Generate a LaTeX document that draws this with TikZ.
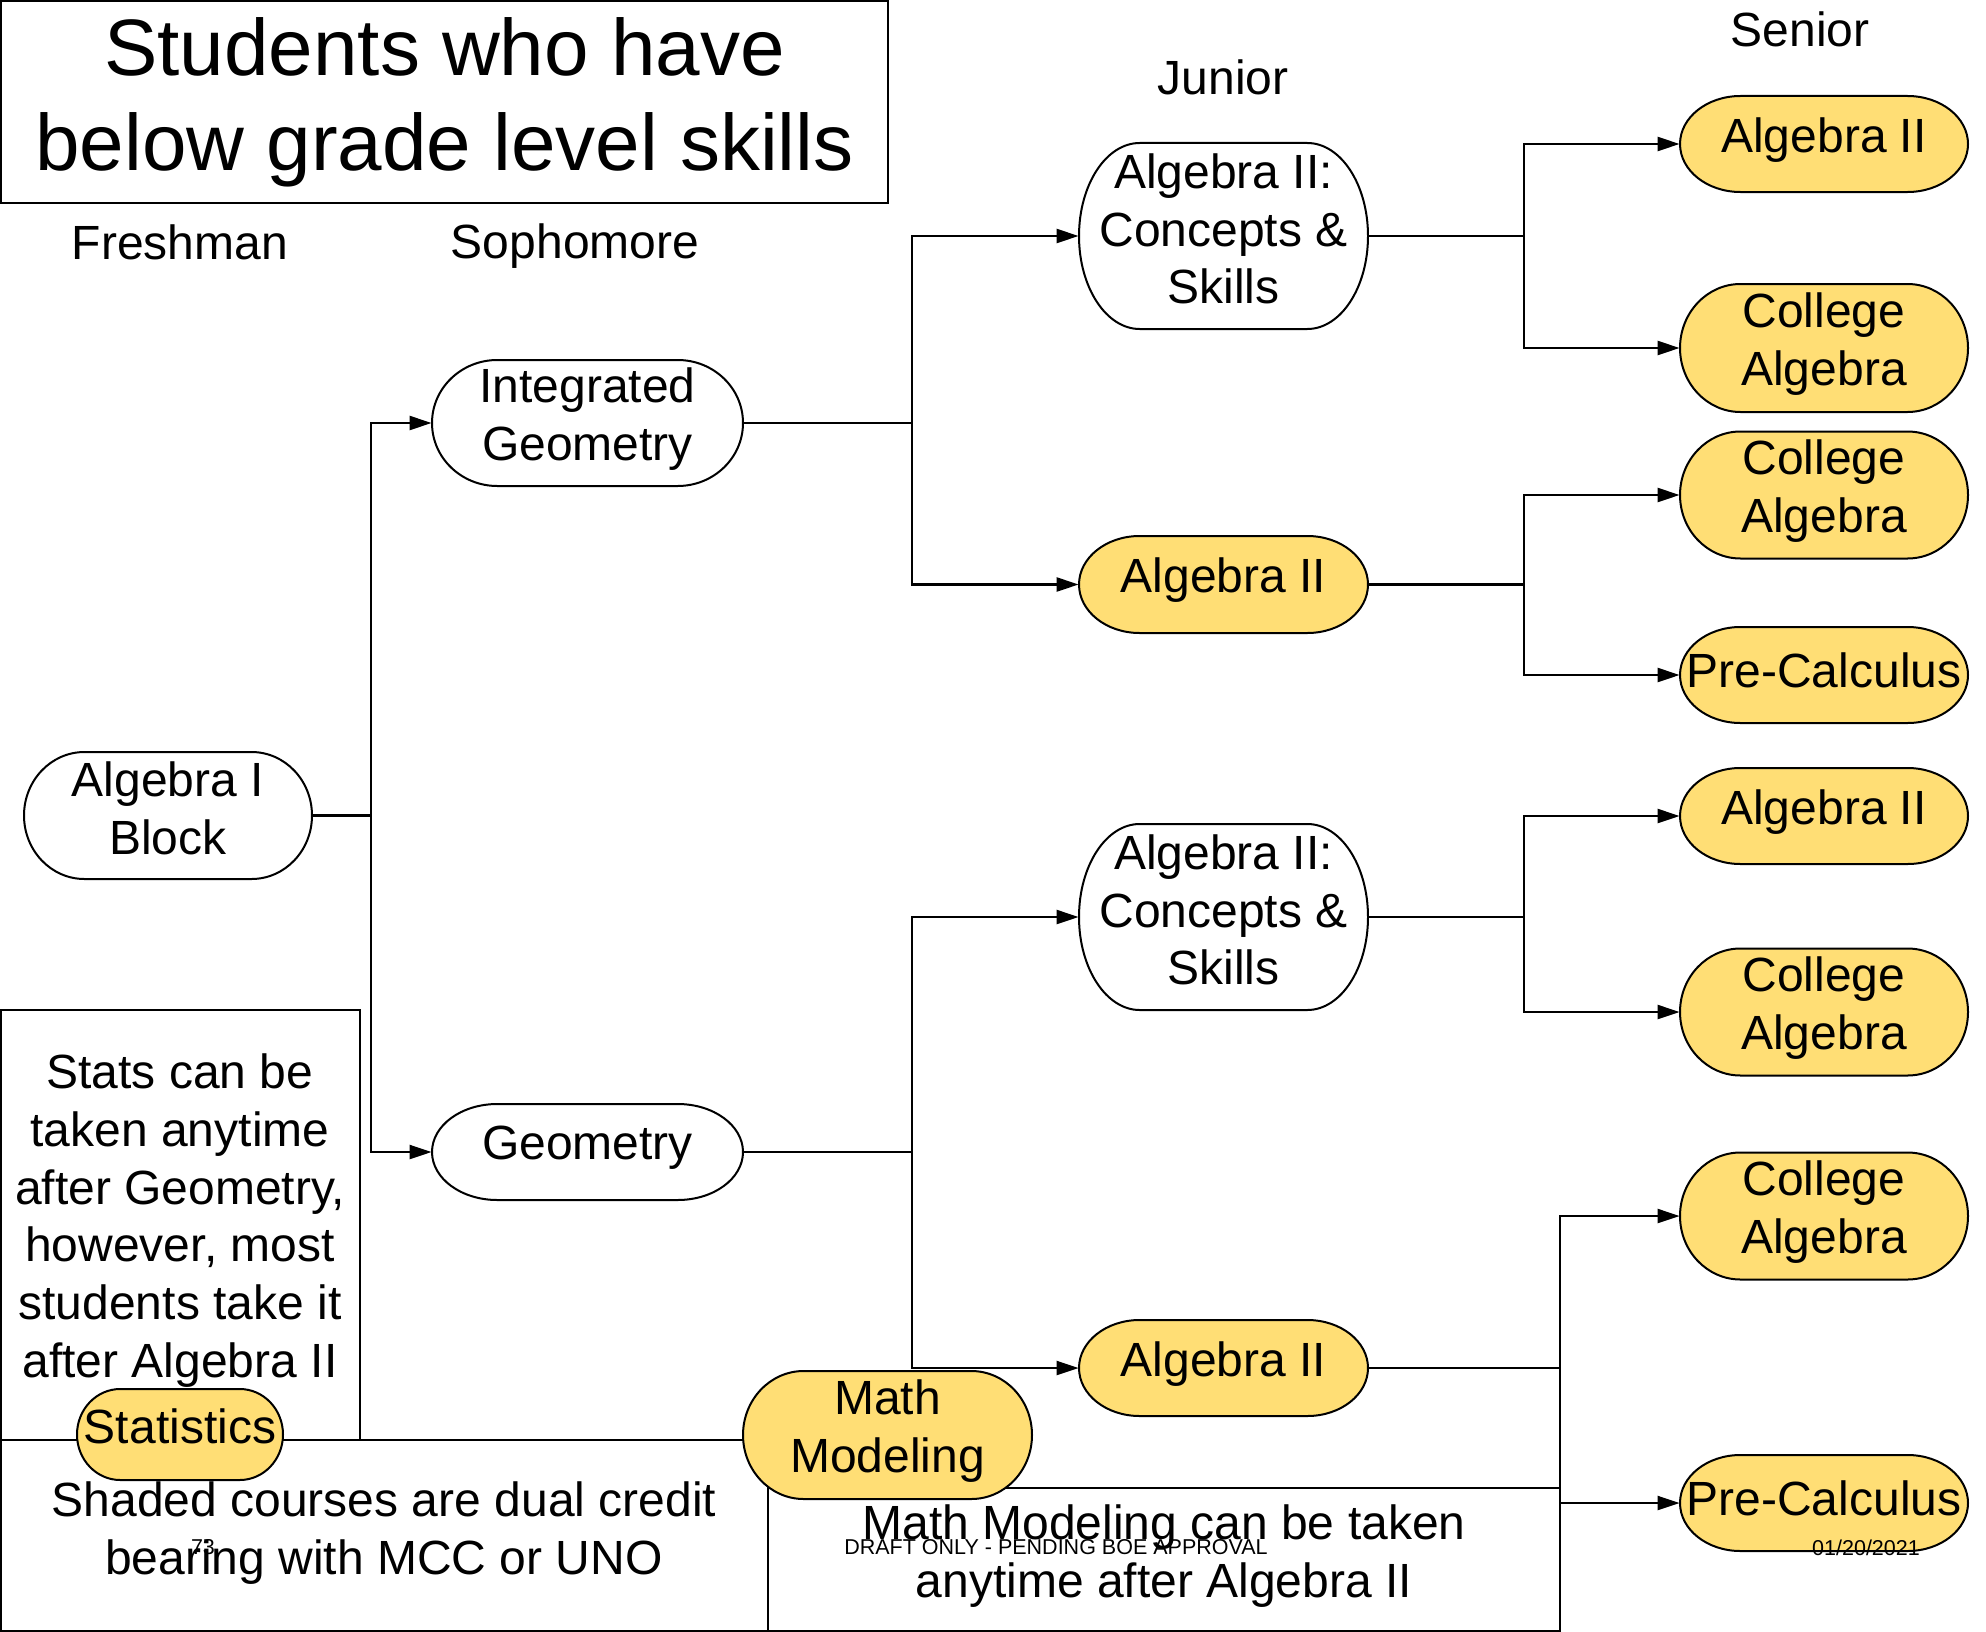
\documentclass[tikz,border=0pt]{standalone}
\usepackage{fontspec}
\setmainfont{Liberation Sans}
\usetikzlibrary{arrows.meta}
\definecolor{gold}{HTML}{FFDE75}
% #1 name, #2 cx, #3 cy, #4 w, #5 h (pixel units), #6 fill, #7 text, #8 text raise
\newcommand\crsnode[8]{%
  \draw[shapeline, fill=#6] ({#2-#4/2+0.21*#4},{#3-#5/2}) -- ({#2+#4/2-0.21*#4},{#3-#5/2})
    arc[start angle=90,end angle=-90,x radius={0.105*#4*1pt},y radius={0.25*#5*1pt}]
    -- ({#2-#4/2+0.21*#4},{#3+#5/2})
    arc[start angle=270,end angle=90,x radius={0.105*#4*1pt},y radius={0.25*#5*1pt}] -- cycle;
  \node[inner sep=0pt, minimum width={#4*0.5pt}, minimum height={#5*0.5pt}] (#1) at (#2,#3) {};%
  \node[lbl, yshift=#8] (#1-text) at (#2,#3) {#7};%
}
\begin{document}
\begin{tikzpicture}[x=0.5pt,y=-0.5pt,
  shapeline/.style={line width=1pt},
  conn/.style={line width=1.1pt},
  arr/.style={line width=1.1pt, -{Triangle[length=11pt,width=7pt]}},
  boxline/.style={line width=1pt},
  lbl/.style={font=\fontsize{24}{28.75}\selectfont, align=center, inner sep=0pt},
  small/.style={font=\fontsize{10.75}{12}\selectfont, inner sep=0pt}]
\useasboundingbox (0,0) rectangle (1986,1632);

% boxes
\node[boxline, draw, minimum width={887*0.5pt}, minimum height={202*0.5pt}, inner sep=0pt,
      font=\fontsize{40}{47.5}\selectfont, align=center] (title) at (444.5,102)
      {Students who have\\below grade level skills};
\draw[boxline] (1,1010) rectangle (360,1440);
\draw[boxline] (1,1440) rectangle (768,1631);
\draw[boxline] (768,1488) rectangle (1560,1631);

% year labels
\node[lbl] (fresh) at (180,242) {Freshman};
\node[lbl] (soph) at (575,246) {Sophomore};
\node[lbl] (jun) at (1223,77) {Junior};
\node[lbl] (sen) at (1800,29) {Senior};

% notes
\node[lbl, font=\fontsize{24}{28.85}\selectfont] (statnote) at (180,1220.5)
  {Stats can be\\taken anytime\\after Geometry,\\however, most\\students take it\\after Algebra II};
\node[lbl] (shaded) at (384,1533) {Shaded courses are dual credit\\bearing with MCC or UNO};
\node[lbl] (mmnote) at (1164,1556) {Math Modeling can be taken\\anytime after Algebra II};

% course nodes
\crsnode{alg1}{168}{815.5}{288}{127}{white}{Algebra I\\Block}{3.5pt}
\crsnode{ig}{587.5}{423}{311}{126}{white}{Integrated\\Geometry}{2pt}
\crsnode{geo}{587.5}{1152}{311}{96}{white}{Geometry}{2pt}
\crsnode{cs1}{1223.5}{236}{289}{186}{white}{Algebra II:\\Concepts \&\\Skills}{3.5pt}
\crsnode{a2a}{1223.5}{584.5}{289}{97}{gold}{Algebra II}{2pt}
\crsnode{cs2}{1223.5}{917}{289}{186}{white}{Algebra II:\\Concepts \&\\Skills}{3.5pt}
\crsnode{a2b}{1223.5}{1368}{289}{96}{gold}{Algebra II}{2pt}
\crsnode{s1}{1824}{144}{288}{96}{gold}{Algebra II}{2pt}
\crsnode{s2}{1824}{348}{288}{128}{gold}{College\\Algebra}{2pt}
\crsnode{s3}{1824}{495}{288}{127}{gold}{College\\Algebra}{2pt}
\crsnode{s4}{1824}{675}{288}{96}{gold}{Pre-Calculus}{2.5pt}
\crsnode{s5}{1824}{816}{288}{96}{gold}{Algebra II}{2pt}
\crsnode{s6}{1824}{1012}{288}{127}{gold}{College\\Algebra}{2pt}
\crsnode{s7}{1824}{1216}{288}{127}{gold}{College\\Algebra}{2pt}
\crsnode{s8}{1824}{1503}{288}{96}{gold}{Pre-Calculus}{2.5pt}
\crsnode{stat}{180}{1434.5}{206}{91}{gold}{Statistics}{4pt}
\crsnode{mm}{887.5}{1435}{289}{128}{gold}{Math\\Modeling}{2pt}

% junctions
\coordinate (j1) at (371,815.5);
\coordinate (j2) at (912,423);
\coordinate (j3) at (912,1152);
\coordinate (j4) at (1524,236);
\coordinate (j5) at (1524,584.5);
\coordinate (j6) at (1524,917);
\coordinate (j7) at (1560,1368);

% connectors
\draw[conn] (alg1.east) -- (j1);
\draw[arr] (j1) |- (ig.west);
\draw[arr] (j1) |- (geo.west);
\draw[conn] (ig.east) -- (j2);
\draw[arr] (j2) |- (cs1.west);
\draw[arr] (j2) |- (a2a.west);
\draw[conn] (geo.east) -- (j3);
\draw[arr] (j3) |- (cs2.west);
\draw[arr] (j3) |- (a2b.west);
\draw[conn] (cs1.east) -- (j4);
\draw[arr] (j4) |- (s1.west);
\draw[arr] (j4) |- (s2.west);
\draw[conn] (a2a.east) -- (j5);
\draw[arr] (j5) |- (s3.west);
\draw[arr] (j5) |- (s4.west);
\draw[conn] (cs2.east) -- (j6);
\draw[arr] (j6) |- (s5.west);
\draw[arr] (j6) |- (s6.west);
\draw[conn] (a2b.east) -- (j7);
\draw[arr] (j7) |- (s7.west);
\draw[arr] (j7) |- (s8.west);

% slide footer texts
\node[small] (pagenum) at (203,1547) {73};
\node[small] (draft) at (1056,1547) {DRAFT ONLY - PENDING BOE APPROVAL};
\node[small] (date) at (1866,1548) {01/20/2021};
\end{tikzpicture}
\end{document}
